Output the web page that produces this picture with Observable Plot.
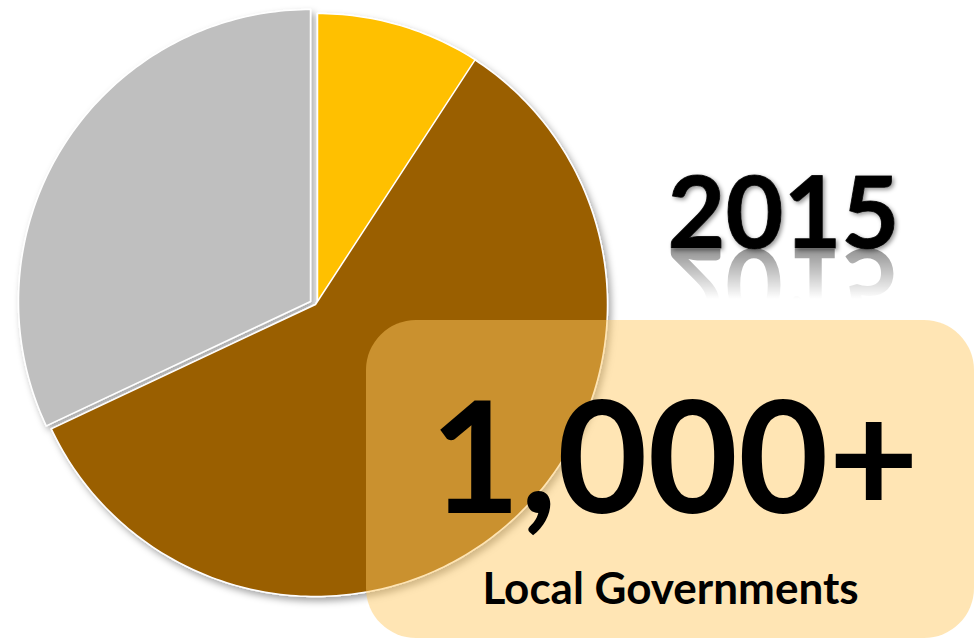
<!DOCTYPE html>
<html><head><meta charset="utf-8">
<script src="https://cdn.jsdelivr.net/npm/d3@7"></script>
<script src="https://cdn.jsdelivr.net/npm/@observablehq/plot@0.6"></script>
<style>html,body{margin:0;padding:0;background:#fff;} #chart{width:980px;height:640px;overflow:hidden}</style>
</head><body><div id="chart"></div>
<script>
// ---- data ----
const categories = ["Segment 1", "Segment 2", "Segment 3"];
const shares = [9.2, 58.8, 32.0];
const sliceColors = ["#FFC000", "#9A5F06", "#BFBFBF"];
const yearLabel = ["2015"];
const headline = ["1,000+"];
const subline = ["Local Governments"];

// ---- layout (styles / positions) ----
const W = 980, H = 640;
const pie = {cx: 315, cy: 304, r: 292};
const explode = [{dx: 2, dy: 1}, {dx: 0, dy: 0}, {dx: -5, dy: -3}];
const box = {x1: 366, x2: 974, y1: 320, y2: 638};
const fontFamily = "Lato, 'Open Sans', sans-serif";
const yearPos = {x: 783, y: 247};

const arcs = d3.pie().sort(null).value(d => d.value)(categories.map((c, i) => ({category: c, value: shares[i]})));
const pts = [];
arcs.forEach((a, i) => {
  const {dx, dy} = explode[i];
  const cx = pie.cx + dx, cy = pie.cy + dy;
  const cat = a.data.category;
  pts.push({category: cat, x: cx, y: cy});
  const n = Math.max(2, Math.ceil((a.endAngle - a.startAngle) / (Math.PI / 180)));
  for (let k = 0; k <= n; k++) {
    const t = a.startAngle + (a.endAngle - a.startAngle) * k / n;
    pts.push({category: cat, x: cx + pie.r * Math.sin(t), y: cy - pie.r * Math.cos(t)});
  }
});

const chart = Plot.plot({
  width: W, height: H, margin: 0,
  style: {background: "white", overflow: "visible"},
  x: {domain: [0, W], range: [0, W], axis: null},
  y: {domain: [0, H], range: [0, H], axis: null},
  color: {domain: categories, range: sliceColors},
  marks: [
    Plot.line(pts, {x: "x", y: "y", z: "category", fill: "category", stroke: "white", strokeWidth: 1.5, curve: "linear-closed"}),
    Plot.rect([box], {x1: "x1", x2: "x2", y1: "y1", y2: "y2", rx: 50, fill: "rgb(255,201,99)", fillOpacity: 0.48}),
    Plot.text(yearLabel, {x: () => yearPos.x, y: () => yearPos.y, text: d => d, fontSize: 100, fontWeight: 700, fontFamily, fill: "#000", stroke: "#2a2a2a", strokeWidth: 1, textAnchor: "middle", lineAnchor: "bottom"}),
    Plot.text(headline, {x: () => 674, y: () => 512, text: d => d, fontSize: 156, fontWeight: 700, fontFamily, fill: "#000", textAnchor: "middle", lineAnchor: "bottom"}),
    Plot.text(subline, {x: () => 670, y: () => 603, text: d => d, fontSize: 44, fontWeight: 700, fontFamily, fill: "#000", textAnchor: "middle", lineAnchor: "bottom"})
  ]
});

const svg = d3.select(chart);
const defs = svg.insert("defs", ":first-child");
const f = defs.append("filter").attr("id", "pieShadow").attr("x", "-10%").attr("y", "-10%").attr("width", "130%").attr("height", "130%");
f.append("feDropShadow").attr("dx", 3).attr("dy", 4).attr("stdDeviation", 3.5).attr("flood-color", "#000").attr("flood-opacity", 0.35);
const f2 = defs.append("filter").attr("id", "textShadow").attr("x", "-10%").attr("y", "-10%").attr("width", "130%").attr("height", "130%");
f2.append("feDropShadow").attr("dx", 2).attr("dy", 2).attr("stdDeviation", 2).attr("flood-color", "#000").attr("flood-opacity", 0.4);
const g = defs.append("linearGradient").attr("id", "reflGrad").attr("gradientUnits", "userSpaceOnUse")
  .attr("x1", 0).attr("y1", yearPos.y).attr("x2", 0).attr("y2", yearPos.y + 52);
g.append("stop").attr("offset", "0").attr("stop-color", "#fff").attr("stop-opacity", 0.8);
g.append("stop").attr("offset", "1").attr("stop-color", "#fff").attr("stop-opacity", 0);
defs.append("mask").attr("id", "reflMask").attr("maskUnits", "userSpaceOnUse")
  .attr("x", 0).attr("y", 0).attr("width", W).attr("height", H)
  .append("rect").attr("x", 600).attr("y", yearPos.y).attr("width", 360).attr("height", 60).attr("fill", "url(#reflGrad)");

svg.select('g[aria-label="line"]').attr("filter", "url(#pieShadow)");

// reflection of the year label (drawn with <use>, not duplicated text)
const yearText = svg.selectAll('g[aria-label="text"] text').filter(function() { return this.textContent === yearLabel[0]; });
const node = yearText.node();
if (node) {
  node.setAttribute("id", "yearText");
  d3.select(node.parentNode).attr("filter", "url(#textShadow)");
  const refl = svg.insert("g", 'g[aria-label="text"]').attr("mask", "url(#reflMask)").attr("opacity", 0.55)
    .attr("font-family", fontFamily).attr("font-size", 100).attr("font-weight", 700)
    .attr("text-anchor", "middle").attr("fill", "#000");
  refl.append("use").attr("href", "#yearText").attr("stroke", "none")
    .attr("transform", `translate(0,${2 * yearPos.y + 2}) scale(1,-1)`);
}

document.getElementById("chart").appendChild(chart);
</script>
</body></html>
